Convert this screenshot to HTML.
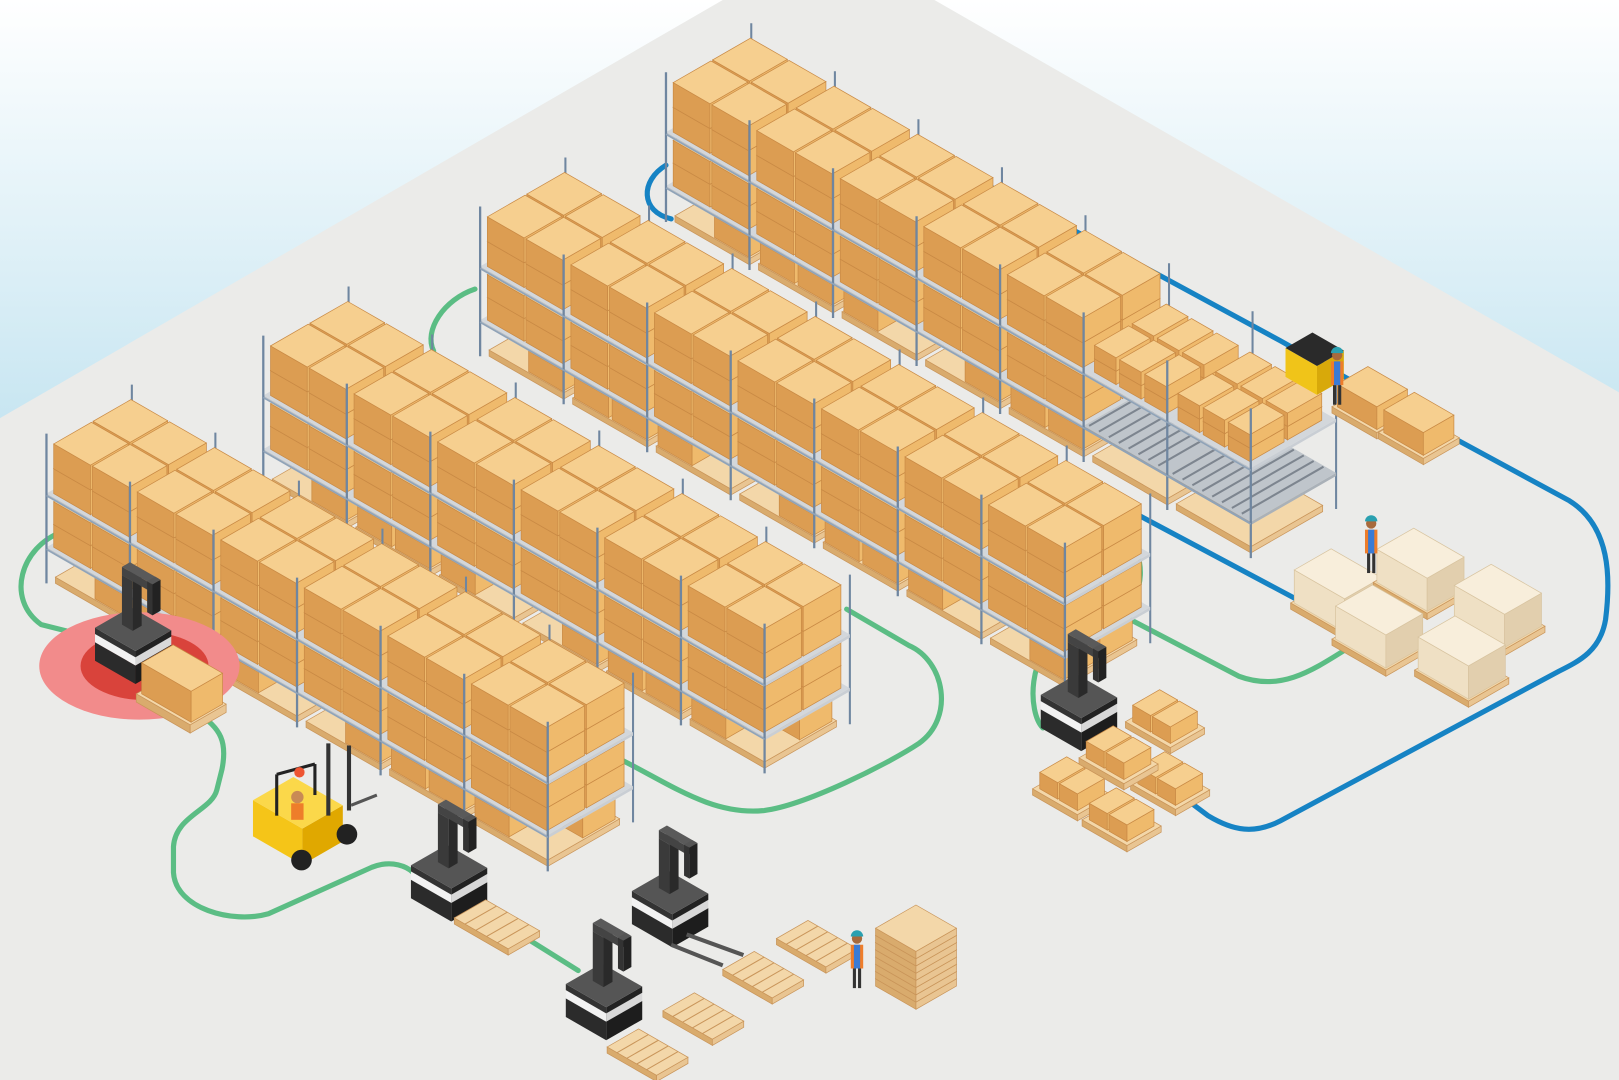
<!DOCTYPE html>
<html><head><meta charset="utf-8"><style>html,body{margin:0;padding:0;width:1619px;height:1080px;overflow:hidden;background:#fff}svg{display:block}</style></head>
<body>
<svg id="s" width="1619" height="1080" viewBox="0 0 1568 1046" preserveAspectRatio="none" xmlns="http://www.w3.org/2000/svg">
<defs><linearGradient id="bg" x1="0" y1="0" x2="0" y2="1"><stop offset="0" stop-color="#ffffff"/><stop offset="1" stop-color="#c6e5f1"/></linearGradient></defs>
<rect x="0" y="0" width="1568" height="420" fill="url(#bg)"/>
<polygon points="700,0 905,0 1568,380 1568,1046 0,1046 0,405" fill="#ebebe9"/>
<g fill="none" stroke-width="5" stroke-linecap="round" stroke-linejoin="round">
<path stroke="#5bbd84" d="M60,515 C20,530 5,580 40,605 L80,615"/>
<path stroke="#5bbd84" d="M190,690 C215,705 220,720 215,745 L210,765 C205,785 170,790 168,820 L168,845 C170,880 225,895 260,885 L360,840 C380,832 395,840 400,845"/>
<path stroke="#5bbd84" d="M480,890 L560,940"/>
<path stroke="#5bbd84" d="M600,735 C650,760 690,790 740,785 C780,780 860,740 890,720 C925,695 915,640 880,625 L820,590"/>
<path stroke="#5bbd84" d="M420,340 C410,320 430,290 460,280"/>
<path stroke="#5bbd84" d="M1030,490 L1090,520 C1110,535 1110,580 1085,590 L1030,615 C995,630 995,690 1010,705"/>
<path stroke="#5bbd84" d="M1085,595 L1200,655 C1240,670 1270,650 1305,628"/>
<path stroke="#1683c4" d="M645,160 C620,175 620,205 650,212"/>
<path stroke="#1683c4" d="M900,150 L1120,265 L1240,330 L1400,420 L1520,485 C1560,510 1560,560 1555,600 C1550,630 1530,640 1510,650 L1240,795 C1215,808 1195,805 1170,790 L1150,775"/>
<path stroke="#1683c4" d="M1020,455 L1255,580"/>
</g>
<g id="g"></g>
</svg>
<script>
let s='';
const C=0.87,Sn=0.5;
function P(ox,oy,u,v,z){return [ox+C*(u+v), oy+Sn*(u-v)-z];}
function pg(pts,f,st){return '<polygon points="'+pts.map(p=>p[0].toFixed(1)+','+p[1].toFixed(1)).join(' ')+'" fill="'+f+'" stroke="'+(st||'none')+'" stroke-width="0.7"/>';}
function box(ox,oy,u0,v0,z0,du,dv,dz,c){const u1=u0+du,v1=v0+dv,z1=z0+dz;
 return pg([P(ox,oy,u0,v0,z0),P(ox,oy,u1,v0,z0),P(ox,oy,u1,v0,z1),P(ox,oy,u0,v0,z1)],c[0],c[3])
 +pg([P(ox,oy,u1,v0,z0),P(ox,oy,u1,v1,z0),P(ox,oy,u1,v1,z1),P(ox,oy,u1,v0,z1)],c[1],c[3])
 +pg([P(ox,oy,u0,v0,z1),P(ox,oy,u1,v0,z1),P(ox,oy,u1,v1,z1),P(ox,oy,u0,v1,z1)],c[2],c[3]);}
function ln(a,b,col,w){return '<line x1="'+a[0].toFixed(1)+'" y1="'+a[1].toFixed(1)+'" x2="'+b[0].toFixed(1)+'" y2="'+b[1].toFixed(1)+'" stroke="'+col+'" stroke-width="'+w+'"/>';}
const TAN=['#dc9d52','#efba6c','#f6cf8f','#c98a45'];
const PAL=['#d9ab6d','#e9c592','#f3d7a9','#c9955a'];
const SHELF=['#b9bfc6','#c9ced4','#d3d7db','none'];
const POST='#6f86a0';
function row(ox,oy,nb,flow){const BL=93,D=95,H=145;
 for(let b=0;b<=nb;b++){s+=ln(P(ox,oy,b*BL,D,0),P(ox,oy,b*BL,D,H),POST,2);}
 for(let b=0;b<nb;b++){
  const isFlow=flow&&b>=nb-2;
  s+=box(ox,oy,b*BL+5,5,0,83,80,6,PAL);
  if(!isFlow){for(let j=1;j>=0;j--)for(let i=0;i<2;i++){if((b+i+j)%3==0)continue;s+=box(ox,oy,b*BL+6+i*42,6+j*40,6,38,36,20,TAN);}}
  s+=box(ox,oy,b*BL,0,32,BL,D,3,isFlow?['#9aa2ab','#aab1b8','#bfc5cb','none']:SHELF);
  if(isFlow){for(let k=0;k<8;k++){s+=ln(P(ox,oy,b*BL+4+k*11,2,36),P(ox,oy,b*BL+4+k*11,D-2,36),'#7d858f',2);}}
  else{for(let j=1;j>=0;j--)for(let i=0;i<2;i++){s+=box(ox,oy,b*BL+4+i*43,4+j*44,35,41,42,22,TAN);s+=box(ox,oy,b*BL+4+i*43,4+j*44,57,41,42,22,TAN);}}
  s+=box(ox,oy,b*BL,0,84,BL,D,3,SHELF);
  if(isFlow){for(let j=1;j>=0;j--)for(let i=0;i<3;i++){s+=box(ox,oy,b*BL+6+i*28,6+j*42,87,24,38,13,TAN);s+=box(ox,oy,b*BL+6+i*28,6+j*42,100,24,38,13,TAN);}}
  else{for(let j=1;j>=0;j--)for(let i=0;i<2;i++){s+=box(ox,oy,b*BL+4+i*43,4+j*44,87,41,42,24,TAN);s+=box(ox,oy,b*BL+4+i*43,4+j*44,111,41,42,24,TAN);}}
 }
 for(let b=0;b<=nb;b++){s+=ln(P(ox,oy,b*BL,0,0),P(ox,oy,b*BL,0,H),POST,2.2);}
 s+=ln(P(ox,oy,0,0,33),P(ox,oy,nb*BL,0,33),'#8fa3b8',1.5);
 s+=ln(P(ox,oy,0,0,85),P(ox,oy,nb*BL,0,85),'#8fa3b8',1.5);
}
row(645,215,7,true);
row(465,345,7,false);
row(255,470,6,false);
row(45,565,6,false);
s+='<ellipse cx="135" cy="645" rx="97" ry="52" fill="#f28b8b"/><ellipse cx="140" cy="645" rx="62" ry="33" fill="#d9433b"/>';
function robot(x,y){
 s+=box(x,y,0,0,0,45,40,18,['#2b2b2b','#1d1d1d','#4a4a4a','none']);
 s+=box(x,y,0,0,18,45,40,8,['#f2f2f2','#d8d8d8','#ffffff','none']);
 s+=box(x,y,0,0,26,45,40,6,['#333','#222','#555','none']);
 s+=box(x,y,12,18,32,12,10,48,['#3a3a3a','#2a2a2a','#555','none']);
 s+=box(x,y,12,18,80,32,9,8,['#444','#333','#5a5a5a','none']);
 s+=box(x,y,40,18,58,6,9,30,['#333','#222','#555','none']);
}
robot(92,640);robot(398,870);robot(612,895);robot(548,985);robot(1008,705);
function pal(x,y,du,dv){s+=box(x,y,0,0,0,du,dv,6,PAL);for(let k=1;k<5;k++){s+=ln(P(x,y,k*du/5,0,6),P(x,y,k*du/5,dv,6),'#c9955a',1);}}
pal(440,895,60,35);pal(700,945,55,35);pal(752,915,55,35);pal(642,985,55,35);pal(588,1020,55,35);
s+=ln([665,905],[720,925],'#555',4);s+=ln([650,915],[700,935],'#555',4);
for(let k=0;k<8;k++)s+=box(848,955,0,0,k*7,45,45,7,PAL);
s+=box(132,680,0,0,0,60,40,8,PAL);s+=box(132,680,3,3,8,55,35,30,TAN);
[[1000,770],[1048,800],[1095,765],[1045,740],[1090,705]].forEach(p=>{s+=box(p[0],p[1],0,0,0,50,38,6,PAL);s+=box(p[0],p[1],4,4,6,20,30,16,TAN);s+=box(p[0],p[1],26,4,6,20,30,16,TAN);});
const CR=['#efe0c4','#e2cfae','#f8eedb','#d8c4a0'];
[[1250,590],[1330,570],[1405,605],[1290,625],[1370,655]].forEach(p=>{s+=box(p[0],p[1],0,0,0,60,45,6,PAL);s+=box(p[0],p[1],2,2,6,56,41,32,CR);});
s+=box(1245,365,0,0,0,35,30,28,['#f0c419','#d8a90a','#2a2a2a','none']);
s+=box(1290,400,0,0,0,50,40,6,PAL);s+=box(1290,400,3,3,6,44,34,22,TAN);
s+=box(1335,425,0,0,0,50,40,6,PAL);s+=box(1335,425,3,3,6,44,34,22,TAN);
s+=box(245,810,0,0,0,55,45,35,['#f5c518','#e0a800','#fbd84a','none']);
s+=ln([268,790],[268,750],'#222',3);s+=ln([305,770],[305,740],'#222',3);s+=ln([268,750],[305,740],'#222',3);
s+=ln([318,720],[318,790],'#333',4);s+=ln([338,722],[338,785],'#333',4);s+=ln([340,780],[365,770],'#555',3);
s+='<circle cx="292" cy="833" r="10" fill="#222"/><circle cx="336" cy="808" r="10" fill="#222"/><circle cx="290" cy="748" r="5" fill="#e53"/>';
s+='<circle cx="288" cy="772" r="6" fill="#c98a55"/><rect x="282" y="778" width="12" height="16" fill="#ee7d2a"/>';
function worker(x,y){s+='<rect x="'+(x-4)+'" y="'+(y-18)+'" width="3" height="20" fill="#333"/><rect x="'+(x+1)+'" y="'+(y-18)+'" width="3" height="20" fill="#333"/><rect x="'+(x-6)+'" y="'+(y-40)+'" width="12" height="23" fill="#ee7d2a"/><rect x="'+(x-3)+'" y="'+(y-40)+'" width="6" height="23" fill="#3a7bd5"/><circle cx="'+x+'" cy="'+(y-46)+'" r="5" fill="#a86a3c"/><path d="M'+(x-6)+','+(y-48)+' a6,6 0 0 1 12,0 z" fill="#2aa0b0"/>';}
worker(830,955);worker(1328,553);worker(1295,390);
document.getElementById('g').innerHTML=s;
</script>
</body></html>
